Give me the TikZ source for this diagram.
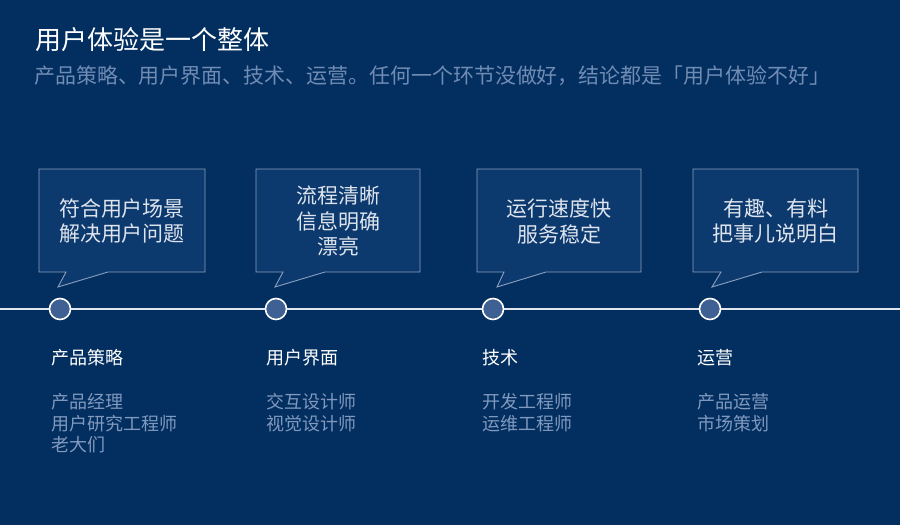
\documentclass[tikz,border=0pt]{standalone}
\usepackage{fontspec}
\setmainfont{Noto Sans CJK SC}
\definecolor{bgc}{RGB}{3,47,96}
\definecolor{boxc}{RGB}{12,57,110}
\definecolor{boxline}{RGB}{140,160,192}
\definecolor{dotc}{RGB}{62,96,146}
\definecolor{linec}{RGB}{225,230,238}
\definecolor{subc}{RGB}{112,140,180}
\definecolor{greyc}{RGB}{128,153,190}
\definecolor{boxtext}{RGB}{222,228,238}
\tikzset{
  bubble/.style={draw=boxline, fill=boxc, line width=0.9pt, line join=miter},
  bubbletext/.style={text=boxtext, align=center, inner sep=0pt, font=\fontsize{21}{25.5}\selectfont},
  dot/.style={circle, draw=white, fill=dotc, line width=1.6pt, minimum size=21pt, inner sep=0pt},
  head/.style={anchor=west, inner sep=0pt, text=white, font=\fontsize{18}{22}\selectfont},
  role/.style={anchor=west, inner sep=0pt, text=greyc, font=\fontsize{18}{22}\selectfont},
}
\begin{document}
\begin{tikzpicture}[x=1pt,y=-1pt]
\fill[bgc] (0,0) rectangle (900,525);
\useasboundingbox (0,0) rectangle (900,525);

\node[anchor=west, inner sep=0pt, text=white, font=\fontsize{26}{30}\selectfont] (title) at (35,40) {用户体验是一个整体};
\node[anchor=west, inner sep=0pt, text=subc, font=\fontsize{20.95}{25}\selectfont] (subtitle) at (34,76) {产品策略、用户界面、技术、运营。任何一个环节没做好，结论都是「用户体验不好」};

% callouts: left, right, tail-left, tip, tail-right
\foreach \l/\r/\ta/\tb/\tc in {39/205/66/58/108, 256/420/283/275/325, 477/641/504/497/546, 693/858/721/712/762}{
  \draw[bubble] (\l,169) -- (\r,169) -- (\r,272) -- (\tc,272) -- (\tb,287) -- (\ta,272) -- (\l,272) -- cycle;
}
\node[bubbletext] (t1) at (122,221) {符合用户场景\\解决用户问题};
\node[bubbletext] (t2) at (338,221.5) {流程清晰\\信息明确\\漂亮};
\node[bubbletext] (t3) at (559,221.5) {运行速度快\\服务稳定};
\node[bubbletext] (t4) at (775.5,221) {有趣、有料\\把事儿说明白};

\coordinate (lstart) at (0,309);
\coordinate (lend) at (900,309);
\draw[linec, line width=1.6pt] (lstart) -- (lend);
\node[dot] (d1) at (60,309) {};
\node[dot] (d2) at (276,309) {};
\node[dot] (d3) at (493,309) {};
\node[dot] (d4) at (710,309) {};

\node[head] (h1) at (51,358) {产品策略};
\node[head] (h2) at (266,358) {用户界面};
\node[head] (h3) at (482,358) {技术};
\node[head] (h4) at (697,358) {运营};

\node[role] (r11) at (51,402) {产品经理};
\node[role] (r12) at (51,424) {用户研究工程师};
\node[role] (r13) at (51,445) {老大们};
\node[role] (r21) at (266,402) {交互设计师};
\node[role] (r22) at (266,424) {视觉设计师};
\node[role] (r31) at (482,402) {开发工程师};
\node[role] (r32) at (482,424) {运维工程师};
\node[role] (r41) at (697,402) {产品运营};
\node[role] (r42) at (697,424) {市场策划};
\end{tikzpicture}
\end{document}
